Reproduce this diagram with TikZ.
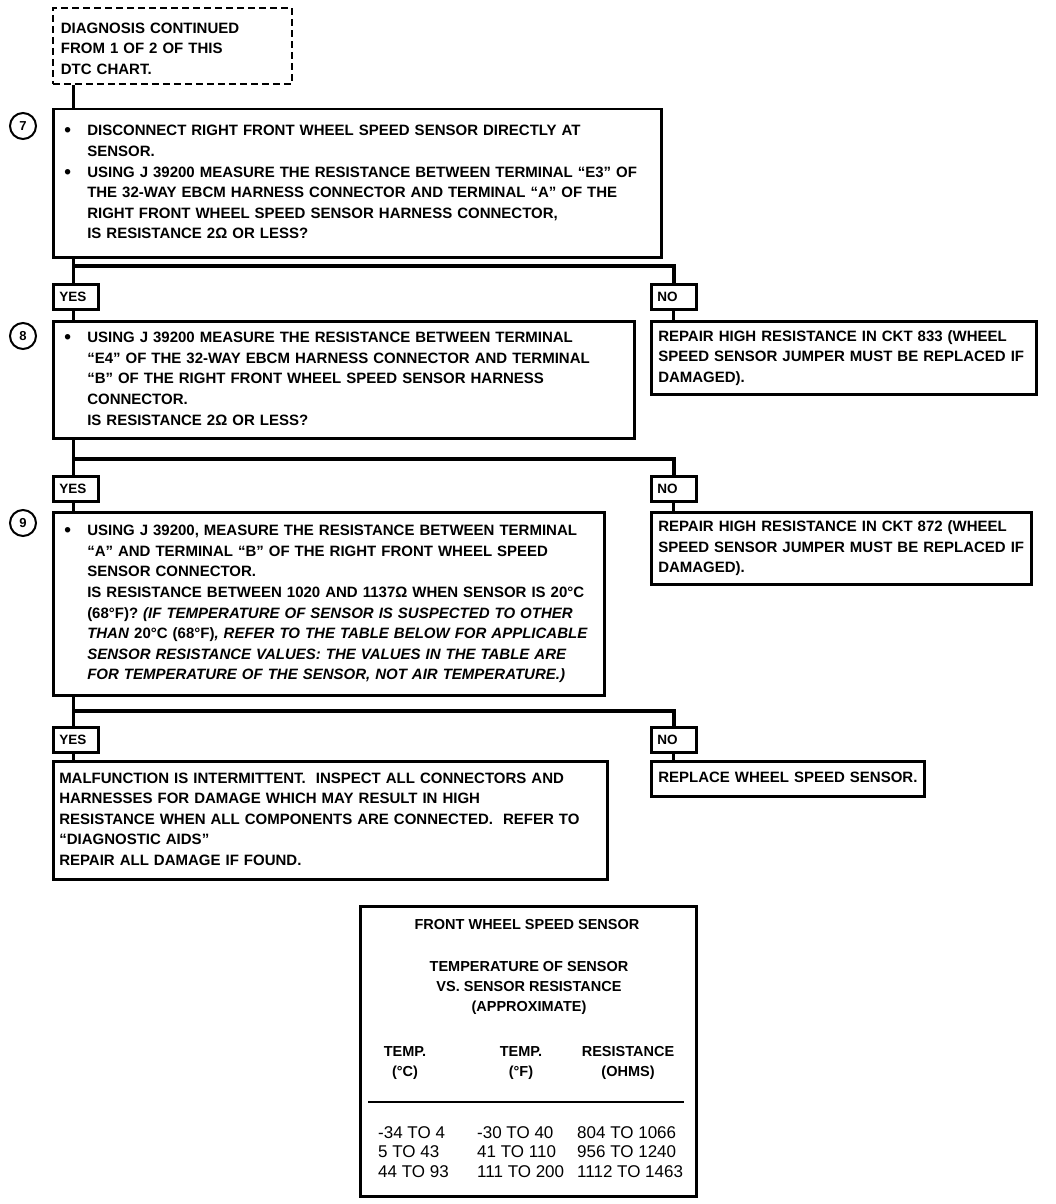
\documentclass[tikz,border=0pt]{standalone}
\usepackage{fontspec}
\setmainfont{Liberation Sans}
\newcommand{\boxlines}[1]{\begin{tabular}{@{}l@{}}#1\end{tabular}}
\newcommand{\itemdot}{\makebox[20pt][l]{\hspace*{-3pt}\raisebox{-1pt}{\fontsize{19}{19}\selectfont\textbullet}}}
\newcommand{\itemgap}{\hspace*{20pt}}

\begin{document}
\begin{tikzpicture}[x=1pt,y=-1pt,
  stepbox/.style={draw, line width=2.5pt, anchor=north west, align=left,
    inner xsep=14pt, inner ysep=0pt, font=\bfseries\fontsize{15}{20.6}\selectfont},
  answer/.style={draw, line width=2.5pt, anchor=north west, align=left,
    inner xsep=6pt, inner ysep=0pt, text width=33pt, minimum height=25pt,
    font=\bfseries\fontsize{13.5}{15}\selectfont},
  stepnum/.style={draw, circle, line width=2pt, minimum size=26pt, inner sep=0pt,
    font=\bfseries\fontsize{13}{15}\selectfont},
  link/.style={line width=3pt},
  branch/.style={line width=4pt},
  tabhead/.style={inner sep=0pt, align=center, font=\bfseries\fontsize{14.5}{20}\selectfont},
  tabrow/.style={inner sep=0pt, anchor=west, align=left, font=\fontsize{17}{19.5}\selectfont}]
\useasboundingbox (0,0) rectangle (1056,1204);

% start of this page
\node[stepbox, dash pattern=on 7pt off 4pt, line width=1.8pt, inner xsep=8pt,
  text width=223pt, minimum height=76pt] (cont) at (52,7)
  {\boxlines{\rule{0pt}{22pt}DIAGNOSIS CONTINUED\\FROM 1 OF 2 OF THIS\\DTC CHART.}};

% step 7
\node[stepnum] (c7) at (23,126) {7};
\node[stepbox, text width=580pt, minimum height=148pt] (s7) at (52,108)
  {\boxlines{\itemdot DISCONNECT RIGHT FRONT WHEEL SPEED SENSOR DIRECTLY AT\\
  \itemgap SENSOR.\\
  \itemdot USING J 39200 MEASURE THE RESISTANCE BETWEEN TERMINAL “E3” OF\\
  \itemgap THE 32-WAY EBCM HARNESS CONNECTOR AND TERMINAL “A” OF THE\\
  \itemgap RIGHT FRONT WHEEL SPEED SENSOR HARNESS CONNECTOR,\\
  \itemgap IS RESISTANCE 2Ω OR LESS?}};
\node[answer] (y7) at (52,283) {YES};
\node[answer] (n7) at (650,283) {NO};

% step 8
\node[stepnum] (c8) at (23,336) {8};
\node[stepbox, text width=553pt, minimum height=117pt] (s8) at (52,320)
  {\boxlines{\itemdot USING J 39200 MEASURE THE RESISTANCE BETWEEN TERMINAL\\
  \itemgap “E4” OF THE 32-WAY EBCM HARNESS CONNECTOR AND TERMINAL\\
  \itemgap “B” OF THE RIGHT FRONT WHEEL SPEED SENSOR HARNESS\\
  \itemgap CONNECTOR.\\
  \itemgap IS RESISTANCE 2Ω OR LESS?}};
\node[stepbox, inner xsep=7pt, text width=371pt, minimum height=73pt] (r8) at (650,320)
  {\boxlines{REPAIR HIGH RESISTANCE IN CKT 833 (WHEEL\\
  SPEED SENSOR JUMPER MUST BE REPLACED IF\\
  DAMAGED).}};
\node[answer] (y8) at (52,475) {YES};
\node[answer] (n8) at (650,475) {NO};

% step 9
\node[stepnum] (c9) at (23,523) {9};
\node[stepbox, text width=523pt, minimum height=183pt] (s9) at (52,511)
  {\boxlines{\itemdot USING J 39200, MEASURE THE RESISTANCE BETWEEN TERMINAL\\
  \itemgap “A” AND TERMINAL “B” OF THE RIGHT FRONT WHEEL SPEED\\
  \itemgap SENSOR CONNECTOR.\\
  \itemgap IS RESISTANCE BETWEEN 1020 AND 1137Ω WHEN SENSOR IS 20°C\\
  \itemgap (68°F)? \textit{(IF TEMPERATURE OF SENSOR IS SUSPECTED TO OTHER}\\
  \itemgap \textit{THAN} 20°C (68°F)\textit{, REFER TO THE TABLE BELOW FOR APPLICABLE}\\
  \itemgap \textit{SENSOR RESISTANCE VALUES: THE VALUES IN THE TABLE ARE}\\
  \itemgap \textit{FOR TEMPERATURE OF THE SENSOR, NOT AIR TEMPERATURE.)}}};
\node[stepbox, inner xsep=7pt, text width=366pt, minimum height=72pt] (r9) at (650,511)
  {\boxlines{REPAIR HIGH RESISTANCE IN CKT 872 (WHEEL\\
  SPEED SENSOR JUMPER MUST BE REPLACED IF\\
  DAMAGED).}};
\node[answer] (y9) at (52,726) {YES};
\node[answer] (n9) at (650,726) {NO};

% results
\node[stepbox, inner xsep=6pt, text width=542pt, minimum height=118pt] (ok) at (52,760)
  {\boxlines{MALFUNCTION IS INTERMITTENT.\ \ INSPECT ALL CONNECTORS AND\\
  HARNESSES FOR DAMAGE WHICH MAY RESULT IN HIGH\\
  RESISTANCE WHEN ALL COMPONENTS ARE CONNECTED.\ \ REFER TO\\
  “DIAGNOSTIC AIDS”\\
  REPAIR ALL DAMAGE IF FOUND.}};
\node[stepbox, inner xsep=7pt, text width=259pt, minimum height=35pt] (rep) at (650,760)
  {\boxlines{REPLACE WHEEL SPEED SENSOR.}};

% connectors
\coordinate (j7) at (73,266);
\coordinate (j8) at (73,459);
\coordinate (j9) at (73,711);
\draw[link] (cont.south -| j7) -- (s7.north -| j7);
\draw[link] (s7.south -| j7) -- (j7);
\draw[branch] (j7) -| (n7.north);
\draw[link] (j7) -- (y7.north -| j7);
\draw[link] (y7.south -| j7) -- (s8.north -| j7);
\draw[link] (n7.south) -- (r8.north -| n7.south);

\draw[link] (s8.south -| j8) -- (j8);
\draw[branch] (j8) -| (n8.north);
\draw[link] (j8) -- (y8.north -| j8);
\draw[link] (y8.south -| j8) -- (s9.north -| j8);
\draw[link] (n8.south) -- (r9.north -| n8.south);

\draw[link] (s9.south -| j9) -- (j9);
\draw[branch] (j9) -| (n9.north);
\draw[link] (j9) -- (y9.north -| j9);
\draw[link] (y9.south -| j9) -- (ok.north -| j9);
\draw[link] (n9.south) -- (rep.north -| n9.south);

% sensor table
\node[draw, line width=2.5pt, anchor=north west, minimum width=336pt,
  minimum height=290pt, inner sep=0pt] (tbl) at (359,905) {};
\node[tabhead] (ttl) at (527,924) {FRONT WHEEL SPEED SENSOR};
\node[tabhead] (tsub) at (529,988) {TEMPERATURE OF SENSOR\\VS. SENSOR RESISTANCE\\(APPROXIMATE)};
\node[tabhead] (hc) at (405,1063) {TEMP.\\(°C)};
\node[tabhead] (hf) at (521,1063) {TEMP.\\(°F)};
\node[tabhead] (hr) at (628,1063) {RESISTANCE\\(OHMS)};
\draw[line width=2pt] (368,1102) -- (684,1102);
\node[tabrow] (vc) at (378,1152) {-34 TO 4\\5 TO 43\\44 TO 93};
\node[tabrow] (vf) at (477,1152) {-30 TO 40\\41 TO 110\\111 TO 200};
\node[tabrow] (vr) at (577,1152) {804 TO 1066\\956 TO 1240\\1112 TO 1463};
\end{tikzpicture}
\end{document}
